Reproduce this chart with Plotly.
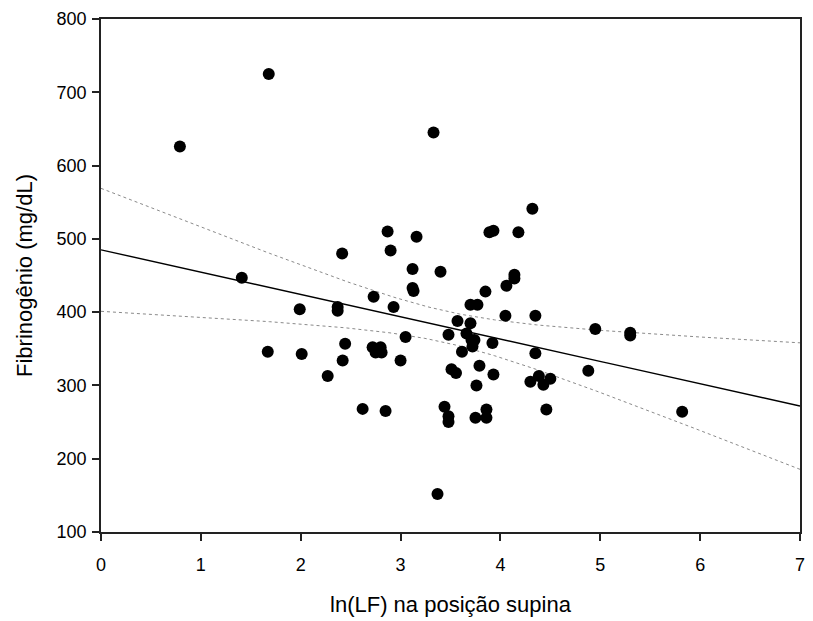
import numpy as np
import plotly.graph_objects as go

# ln(LF) in the supine position and plasma fibrinogen (mg/dL), one entry per subject
ln_lf = [
    0.79, 1.68, 3.33, 2.87, 3.16, 2.90, 2.415, 3.12, 3.40, 3.12,
    3.13, 1.41, 2.73, 1.99, 2.37, 2.37, 2.93, 4.32, 3.89, 3.93,
    4.18, 4.14, 4.14, 4.06, 3.85, 3.70, 3.77, 1.67, 2.01, 2.445,
    2.42, 2.27, 2.72, 2.80, 2.75, 2.81, 3.05, 3.00, 2.62, 2.85,
    3.37, 4.05, 4.35, 3.57, 3.70, 4.95, 5.30, 5.30, 3.48, 3.66,
    3.71, 3.74, 3.72, 3.92, 3.615, 4.35, 3.79, 3.51, 3.555, 3.93,
    4.88, 3.76, 4.30, 4.385, 4.43, 4.50, 5.82, 4.46, 3.86, 3.86,
    3.75, 3.44, 3.48, 3.48,
]
fibrinogen = [
    626, 725, 645, 510, 503, 484, 480, 459, 455, 433,
    429, 447, 421, 404, 407, 402, 407, 541, 509, 511,
    509, 451, 446, 436, 428, 410, 410, 346, 343, 357,
    334, 313, 352, 352, 345, 345, 366, 334, 268, 265,
    152, 395, 395, 388, 385, 377, 372, 368, 369, 371,
    362, 362, 353, 358, 346, 344, 327, 322, 317, 315,
    320, 300, 305, 313, 301, 309, 264, 267, 267, 256,
    256, 271, 258, 250,
]

x_ticks = [0, 1, 2, 3, 4, 5, 6, 7]
y_ticks = [100, 200, 300, 400, 500, 600, 700, 800]

# Ordinary least-squares fit with 95% confidence band for the mean
x = np.asarray(ln_lf, dtype=float)
y = np.asarray(fibrinogen, dtype=float)
n = x.size
slope, intercept = np.polyfit(x, y, 1)
resid = y - (intercept + slope * x)
s = np.sqrt(np.sum(resid ** 2) / (n - 2))
sxx = np.sum((x - x.mean()) ** 2)
t_crit = 1.993  # two-sided 95%, df = n - 2

xs = np.linspace(x_ticks[0], x_ticks[-1], 200)
fit = intercept + slope * xs
half = t_crit * s * np.sqrt(1.0 / n + (xs - x.mean()) ** 2 / sxx)

fig = go.Figure()
fig.add_trace(go.Scatter(x=xs, y=fit + half, mode="lines",
                         line=dict(color="#8a8a8a", width=1, dash="dot"),
                         hoverinfo="skip"))
fig.add_trace(go.Scatter(x=xs, y=fit - half, mode="lines",
                         line=dict(color="#8a8a8a", width=1, dash="dot"),
                         hoverinfo="skip"))
fig.add_trace(go.Scatter(x=xs, y=fit, mode="lines",
                         line=dict(color="black", width=1.4),
                         hoverinfo="skip"))
fig.add_trace(go.Scatter(x=x, y=y, mode="markers",
                         marker=dict(color="black", size=12, line=dict(width=0))))

axis_common = dict(
    showgrid=False, zeroline=False, showline=True, mirror=True,
    linecolor="#222222", linewidth=1.5,
    ticks="outside", ticklen=7, tickwidth=1.5, tickcolor="#222222",
    tickfont=dict(family="Liberation Sans, Arial, sans-serif", size=18, color="black"),
)

fig.update_layout(
    width=813, height=621,
    margin=dict(l=101, r=8, t=19, b=89),
    paper_bgcolor="white", plot_bgcolor="white",
    showlegend=False,
    xaxis=dict(range=[0, 7], tickvals=x_ticks, ticklabelstandoff=9,
               title=dict(text="ln(LF) na posição supina", standoff=22,
                          font=dict(family="Liberation Sans, Arial, sans-serif", size=22, color="black")),
               **axis_common),
    yaxis=dict(range=[100, 800], tickvals=y_ticks, ticklabelstandoff=2,
               title=dict(text="Fibrinogênio (mg/dL)", standoff=18,
                          font=dict(family="Liberation Sans, Arial, sans-serif", size=22, color="black")),
               **axis_common),
)

fig.write_html("out.html")
